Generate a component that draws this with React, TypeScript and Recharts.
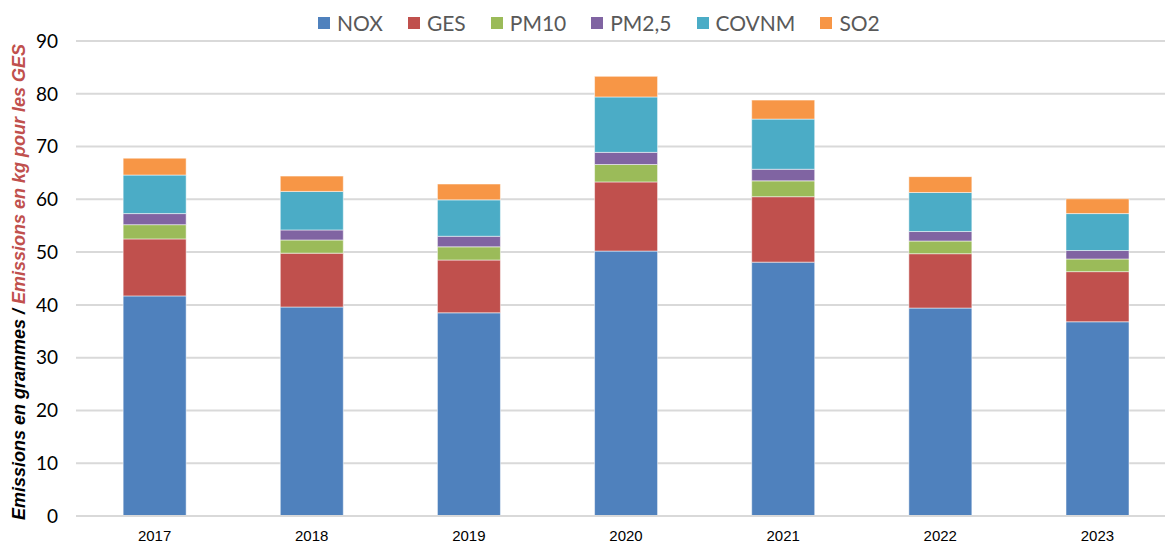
import React from 'react';
import {
  BarChart,
  Bar,
  XAxis,
  YAxis,
  CartesianGrid,
} from 'recharts';

// Années
const years = ['2017', '2018', '2019', '2020', '2021', '2022', '2023'];

// Valeurs par polluant
const nox = [41.7, 39.6, 38.5, 50.2, 48.1, 39.4, 36.8];
const ges = [10.8, 10.2, 10.0, 13.1, 12.4, 10.3, 9.5];
const pm10 = [2.7, 2.5, 2.5, 3.3, 3.0, 2.4, 2.4];
const pm25 = [2.1, 1.9, 2.0, 2.3, 2.2, 1.8, 1.6];
const covnm = [7.3, 7.3, 6.9, 10.5, 9.5, 7.4, 7.0];
const so2 = [3.2, 2.9, 3.0, 3.9, 3.6, 3.0, 2.8];

const yTicks = [0, 10, 20, 30, 40, 50, 60, 70, 80, 90];

const SERIES = [
  { key: 'NOX', color: '#4F81BD' },
  { key: 'GES', color: '#C0504D' },
  { key: 'PM10', color: '#9BBB59' },
  { key: 'PM2,5', color: '#8064A2' },
  { key: 'COVNM', color: '#4BACC6' },
  { key: 'SO2', color: '#F79646' },
];

const data = years.map((year, i) => ({
  year,
  NOX: nox[i],
  GES: ges[i],
  PM10: pm10[i],
  'PM2,5': pm25[i],
  COVNM: covnm[i],
  SO2: so2[i],
}));

// Légende personnalisée (hors du graphique pour ne pas décaler la zone de tracé)
const CustomLegend = () => (
  <div
    style={{
      position: 'absolute',
      top: 10,
      left: 318,
      display: 'flex',
      alignItems: 'center',
      fontFamily: 'Lato, "Open Sans", sans-serif',
      fontSize: 21,
      color: '#595959',
      lineHeight: '26px',
    }}
  >
    {SERIES.map((s) => (
      <div key={s.key} style={{ display: 'flex', alignItems: 'center', marginRight: 25 }}>
        <div style={{ width: 12, height: 12, background: s.color, marginRight: 7 }} />
        <span>{s.key}</span>
      </div>
    ))}
  </div>
);

// Titre de l'axe Y en deux couleurs
const YLabel = () => (
  <text
    x={0}
    y={0}
    transform="translate(25, 282) rotate(-90)"
    textAnchor="middle"
    style={{ fontFamily: '"Liberation Sans", Arial, sans-serif', fontSize: 18, fontWeight: 'bold', fontStyle: 'italic' }}
  >
    <tspan fill="#000">Emissions en grammes / </tspan>
    <tspan fill="#C0504D">Emissions en kg pour les GES</tspan>
  </text>
);

export default function App() {
  return (
    <div style={{ position: 'absolute', left: 0, top: 0, width: 1165, height: 547, overflow: 'hidden', background: '#fff' }}>
      <BarChart
        width={1190}
        height={547}
        data={data}
        margin={{ top: 41, right: 14, bottom: 0, left: 0 }}
        barCategoryGap="30%"
      >
        <CartesianGrid vertical={false} stroke="#D9D9D9" strokeWidth={2} />
        <XAxis
          dataKey="year"
          height={31}
          tickLine={false}
          axisLine={{ stroke: '#D9D9D9', strokeWidth: 2 }}
          tick={{ fill: '#000', fontSize: 15, fontFamily: '"Liberation Sans Narrow", "Liberation Sans", sans-serif' }}
          dy={6}
        />
        <YAxis
          width={76}
          domain={[0, 90]}
          ticks={yTicks}
          tickLine={false}
          axisLine={false}
          tick={{ fill: '#000', fontSize: 19, fontFamily: 'Lato, "Open Sans", sans-serif' }}
          dx={-10}
          label={<YLabel />}
        />
        {SERIES.map((s) => (
          <Bar
            key={s.key}
            dataKey={s.key}
            stackId="a"
            fill={s.color}
            stroke="#ffffff"
            strokeOpacity={0.5}
            strokeWidth={1}
            isAnimationActive={false}
          />
        ))}
      </BarChart>
      <CustomLegend />
    </div>
  );
}
